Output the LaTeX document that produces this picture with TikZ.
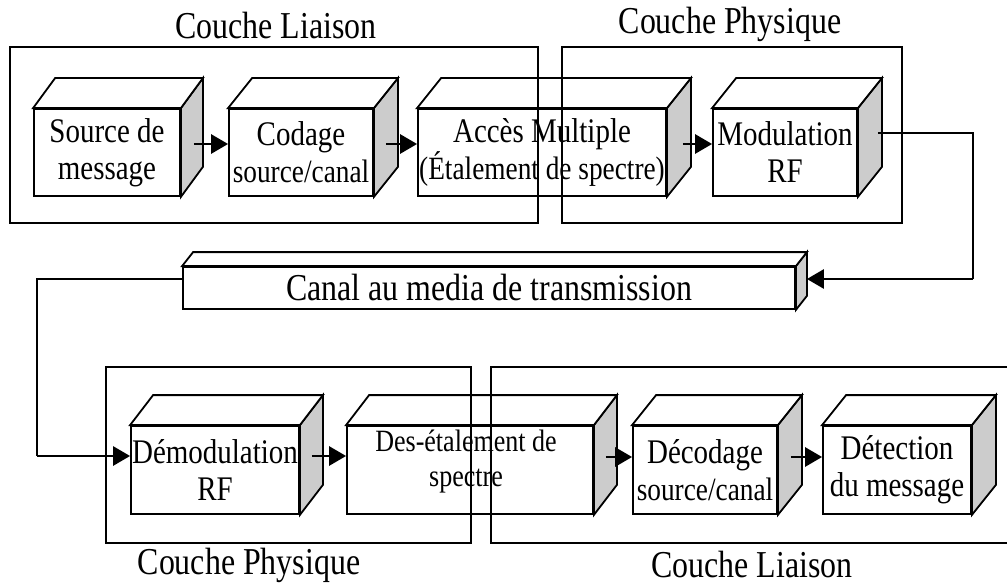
\documentclass[tikz,border=0pt]{standalone}
\usepackage{fontspec}
\setmainfont{Liberation Serif}[FakeStretch=0.84]
\usetikzlibrary{arrows.meta,calc}
\definecolor{sidegray}{RGB}{204,204,204}
\newcommand\fsA{\fontsize{34.5}{37}\selectfont}
\newcommand\fsB{\fontsize{32.5}{37}\selectfont}
\newcommand\fsC{\fontsize{31}{35}\selectfont}
\newcommand\fsL{\fontsize{38}{40}\selectfont}
\tikzset{
  face/.style={draw, line width=1.8pt, fill=white, inner sep=0pt, align=center,
    font=\fsA},
  sideface/.style={draw, line width=1.8pt, fill=sidegray, line join=miter},
  topface/.style={draw, line width=1.8pt, fill=white, line join=miter},
  layerframe/.style={draw, line width=1.8pt},
  lbl/.style={inner sep=0pt, font=\fsL},
  conn/.style={line width=2.8pt},
  thinconn/.style={line width=2.2pt},
  arr/.style={conn, -{Triangle[length=17pt,width=19pt]}}
}
% name, cx, cy, w, h, dx, dy, text
\newcommand\cubebox[8]{%
  \node[face, minimum width=#4pt, minimum height=#5pt] (#1) at (#2,#3) {#8};
  \draw[sideface] (#1.north east) -- ($(#1.north east)+(#6,#7)$) -- ($(#1.south east)+(#6,#7)$) -- (#1.south east) -- cycle;
  \draw[topface] (#1.north west) -- ($(#1.north west)+(#6,#7)$) -- ($(#1.north east)+(#6,#7)$) -- (#1.north east) -- cycle;
}
\begin{document}
\begin{tikzpicture}[x=1pt,y=-1pt]
\useasboundingbox (0,0) rectangle (1007,586);
\clip (0,0) rectangle (1007,586);
\fill[white] (0,0) rectangle (1007,586);

% top row
\cubebox{src}{107}{152.5}{146}{87}{22}{-30}{Source de\\message}
\cubebox{cod}{301}{152.5}{144}{87}{24}{-30}{Codage\\{\fsB source/canal}}
\cubebox{acc}{542}{152.5}{248}{87}{24}{-30}{Accès Multiple\\{\fsB (Étalement de spectre)}}
\cubebox{mod}{785}{152.5}{144}{87}{24}{-30}{Modulation\\RF}

% channel
\cubebox{canal}{489}{288}{612}{42}{11}{-14}{\fsL Canal au media de transmission}

% bottom row
\cubebox{dem}{215}{470}{168}{88}{23}{-30}{Démodulation\\RF}
\cubebox{des}{470}{470}{246}{88}{23}{-30}{}
\node[inner sep=0pt, align=center, font=\fsC] (destxt) at ($(des.center)+(-4,-8)$) {Des-étalement de\\spectre};
\cubebox{dec}{705}{470}{144}{88}{24}{-30}{Décodage\\{\fsB source/canal}}
\cubebox{det}{897}{470}{148}{88}{24}{-30}{Détection\\du message}

% layer frames
\draw[layerframe] (10,47) rectangle (538,223);
\draw[layerframe] (562,47) rectangle (902,223);
\draw[layerframe] (106,367) rectangle (471,543);
\draw[layerframe] (491,367) rectangle (1015,543);

% labels
\node[lbl] (tlia) at (276,26) {Couche Liaison};
\node[lbl] (tphy) at (730,24) {Couche Physique};
\node[lbl] (bphy) at (249,565) {Couche Physique};
\node[lbl] (blia) at (752,564) {Couche Liaison};

% connectors
\coordinate (cr) at (973,279);
\coordinate (cl) at (37,456);
\draw[arr] ($(src.east)+(13,-8.5)$) -- ($(cod.west)+(0,-8.5)$);
\draw[arr] ($(cod.east)+(12,-8.5)$) -- ($(acc.west)+(0,-8.5)$);
\draw[arr] ($(acc.east)+(16,-8.5)$) -- ($(mod.west)+(0,-8.5)$);
\draw[thinconn] ($(mod.east)+(20,-19.5)$) -| (cr);
\draw[arr] (cr) -- ($(canal.east)+(11,-9)$);
\draw[thinconn] ($(canal.west)+(0,-9)$) -| (cl);
\draw[arr] (cl) -- ($(dem.west)+(0,-14)$);
\draw[arr] ($(dem.east)+(12,-14)$) -- ($(des.west)+(0,-14)$);
\draw[arr] ($(des.east)+(12,-13)$) -- ($(dec.west)+(0,-13)$);
\draw[arr] ($(dec.east)+(13,-13)$) -- ($(det.west)+(0,-13)$);
\end{tikzpicture}
\end{document}
